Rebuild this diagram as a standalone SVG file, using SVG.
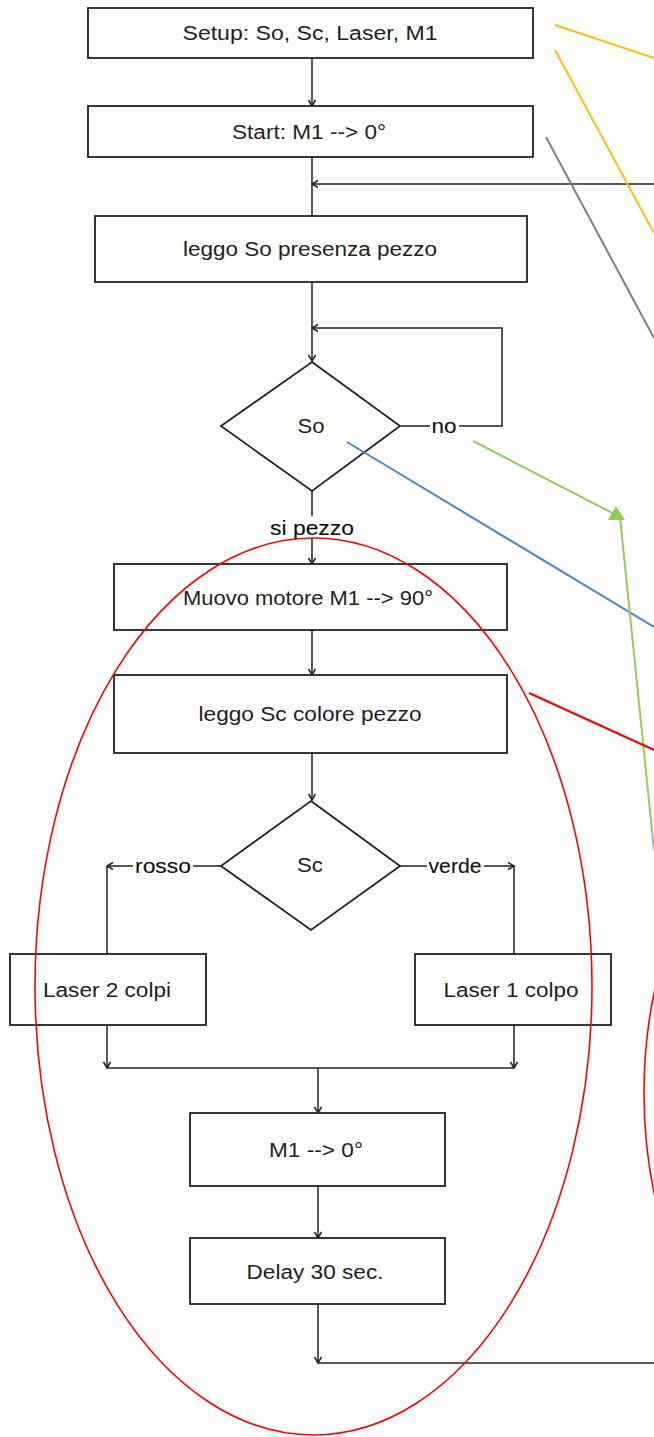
<svg xmlns="http://www.w3.org/2000/svg" width="654" height="1437" viewBox="0 0 654 1437">
<style>
.box{fill:#fff;stroke:#222;stroke-width:1.8}
.t{font-family:"Liberation Sans",Arial,sans-serif;font-size:20px;fill:#222;text-anchor:middle}
.lbl{font-family:"Liberation Sans",Arial,sans-serif;font-size:20px;fill:#111;text-anchor:middle;stroke:#111;stroke-width:0.12}
.c{fill:none;stroke:#222;stroke-width:1.5}
.a{fill:none;stroke:#222;stroke-width:1.5;marker-end:url(#arr)}
.bg{fill:#fff}
</style>
<defs>
<marker id="arr" markerWidth="10" markerHeight="10" refX="7" refY="4" orient="auto" markerUnits="userSpaceOnUse">
<path d="M1,0.5 L7,4 L1,7.5" fill="none" stroke="#222" stroke-width="1.5"/>
</marker>
</defs>
<rect width="654" height="1437" fill="#fff"/>

<g id="connectors">
<path class="a" d="M312,58 V106"/>
<path class="c" d="M312,157 V216"/>
<path class="a" d="M654,184 H312"/>
<path class="a" d="M312,282 V361"/>
<path class="a" d="M401,426 H502 V328 H312"/>
<path class="a" d="M312,491 V564"/>
<path class="a" d="M312,630 V675"/>
<path class="a" d="M312,753 V800"/>
<path class="a" d="M221,866 H107"/>
<path class="c" d="M107,866 V954"/>
<path class="a" d="M400,866 H514"/>
<path class="c" d="M514,866 V954"/>
<path class="a" d="M107,1025 V1068"/>
<path class="a" d="M514,1025 V1068"/>
<path class="c" d="M107,1068 H514"/>
<path class="a" d="M318,1068 V1113"/>
<path class="a" d="M318,1186 V1238"/>
<path class="a" d="M318,1304 V1363"/>
<path class="c" d="M318,1363 H654"/>
<rect class="bg" x="430" y="416" width="29" height="20"/>
<text class="lbl" x="444" y="433" textLength="25" lengthAdjust="spacingAndGlyphs">no</text>
<rect class="bg" x="268" y="516" width="88" height="22"/>
<text class="lbl" x="312" y="535" textLength="84" lengthAdjust="spacingAndGlyphs">si pezzo</text>
<rect class="bg" x="133" y="856" width="60" height="20"/>
<text class="lbl" x="163" y="873" textLength="56" lengthAdjust="spacingAndGlyphs">rosso</text>
<rect class="bg" x="427" y="856" width="57" height="20"/>
<text class="lbl" x="455" y="873" textLength="53" lengthAdjust="spacingAndGlyphs">verde</text>
</g>

<g id="setup">
<rect class="box" x="88" y="8" width="445" height="50"/>
<text class="t" x="310" y="40" textLength="255" lengthAdjust="spacingAndGlyphs">Setup: So, Sc, Laser, M1</text>
</g>
<g id="start">
<rect class="box" x="88" y="106" width="445" height="51"/>
<text class="t" x="309" y="139" textLength="154" lengthAdjust="spacingAndGlyphs">Start: M1 --&gt; 0°</text>
</g>
<g id="leggoSo">
<rect class="box" x="95" y="216" width="432" height="66"/>
<text class="t" x="310" y="256" textLength="254" lengthAdjust="spacingAndGlyphs">leggo So presenza pezzo</text>
</g>
<g id="decSo">
<polygon class="box" points="312,362 400,426 312,491 221,426"/>
<text class="t" x="311" y="433" textLength="27" lengthAdjust="spacingAndGlyphs">So</text>
</g>
<g id="muovo">
<rect class="box" x="114" y="564" width="393" height="66"/>
<text class="t" x="308" y="605" textLength="250" lengthAdjust="spacingAndGlyphs">Muovo motore M1 --&gt; 90°</text>
</g>
<g id="leggoSc">
<rect class="box" x="114" y="675" width="393" height="78"/>
<text class="t" x="310" y="721" textLength="223" lengthAdjust="spacingAndGlyphs">leggo Sc colore pezzo</text>
</g>
<g id="decSc">
<polygon class="box" points="311,801 400,866 311,930 221,866"/>
<text class="t" x="310" y="872" textLength="26" lengthAdjust="spacingAndGlyphs">Sc</text>
</g>
<g id="laser2">
<rect class="box" x="10" y="954" width="196" height="71"/>
<text class="t" x="107" y="997" textLength="128" lengthAdjust="spacingAndGlyphs">Laser 2 colpi</text>
</g>
<g id="laser1">
<rect class="box" x="415" y="954" width="196" height="71"/>
<text class="t" x="511" y="997" textLength="135" lengthAdjust="spacingAndGlyphs">Laser 1 colpo</text>
</g>
<g id="m1zero">
<rect class="box" x="190" y="1113" width="255" height="73"/>
<text class="t" x="316" y="1157" textLength="94" lengthAdjust="spacingAndGlyphs">M1 --&gt; 0°</text>
</g>
<g id="delay">
<rect class="box" x="190" y="1238" width="255" height="66"/>
<text class="t" x="315" y="1279" textLength="137" lengthAdjust="spacingAndGlyphs">Delay 30 sec.</text>
</g>

<g id="annotations">
<line x1="555" y1="25" x2="654" y2="58" stroke="#FFC000" stroke-width="2"/>
<line x1="555" y1="50" x2="654" y2="233" stroke="#FFC000" stroke-width="2"/>
<line x1="546" y1="137" x2="654" y2="338" stroke="#7F7F7F" stroke-width="2"/>
<line x1="347" y1="442" x2="654" y2="627" stroke="#4A86D4" stroke-width="2"/>
<polyline points="473,441 620,517 654,850" fill="none" stroke="#92D050" stroke-width="2"/>
<polygon points="608,520 625,520 616,506" fill="#92D050"/>
<line x1="529" y1="693" x2="654" y2="750" stroke="#FF0000" stroke-width="2.2"/>
<ellipse cx="313.5" cy="986.5" rx="278.5" ry="448.5" fill="none" stroke="#FF0000" stroke-width="1.6"/>
<ellipse cx="794" cy="1093" rx="150" ry="278" fill="none" stroke="#FF0000" stroke-width="1.6"/>
</g>
</svg>
